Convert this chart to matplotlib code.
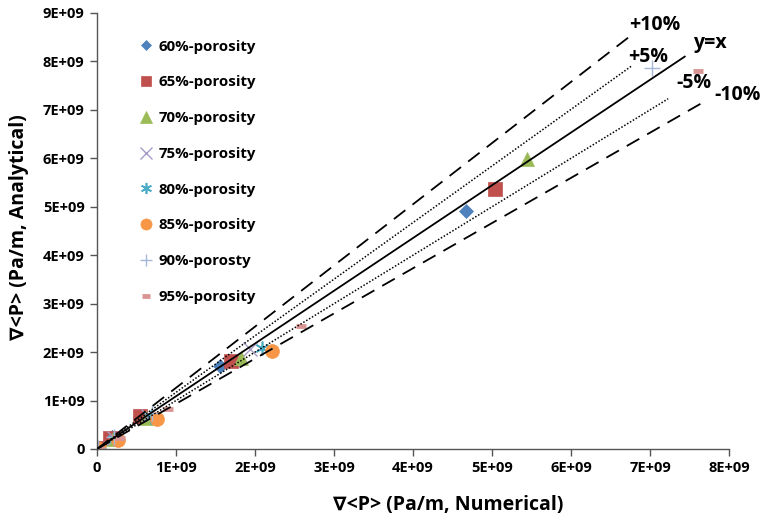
import math
import matplotlib
matplotlib.use("Agg")
import matplotlib.pyplot as plt
from matplotlib.ticker import FuncFormatter, MultipleLocator

plt.rcParams['font.family'] = ['Open Sans', 'DejaVu Sans']
plt.rcParams['font.weight'] = 'bold'

# ---- data (units of Pa/m) ----
labels = ["60%-porosity", "65%-porosity", "70%-porosity", "75%-porosity",
          "80%-porosity", "85%-porosity", "90%-porosty", "95%-porosity"]
num_60 = [0.01e9, 0.19e9, 0.54e9, 1.56e9, 4.67e9]
ana_60 = [0.02e9, 0.25e9, 0.66e9, 1.72e9, 4.92e9]
num_65 = [0.01e9, 0.16e9, 0.54e9, 1.70e9, 5.04e9]
ana_65 = [0.02e9, 0.23e9, 0.68e9, 1.82e9, 5.37e9]
num_70 = [0.01e9, 0.20e9, 0.62e9, 1.82e9, 5.44e9]
ana_70 = [0.02e9, 0.21e9, 0.64e9, 1.88e9, 5.99e9]
num_75 = [0.01e9, 0.21e9, 0.64e9, 1.94e9]
ana_75 = [0.02e9, 0.22e9, 0.68e9, 2.07e9]
num_80 = [0.01e9, 0.22e9, 0.68e9, 2.09e9]
ana_80 = [0.01e9, 0.21e9, 0.66e9, 2.09e9]
num_85 = [0.02e9, 0.27e9, 0.76e9, 2.22e9]
ana_85 = [0.01e9, 0.19e9, 0.62e9, 2.02e9]
num_90 = [0.01e9, 0.22e9, 0.70e9, 7.03e9]
ana_90 = [0.02e9, 0.24e9, 0.74e9, 7.87e9]
num_95 = [0.02e9, 0.29e9, 0.90e9, 2.58e9, 7.61e9]
ana_95 = [0.02e9, 0.23e9, 0.83e9, 2.54e9, 7.81e9]

series_x = [num_60, num_65, num_70, num_75, num_80, num_85, num_90, num_95]
series_y = [ana_60, ana_65, ana_70, ana_75, ana_80, ana_85, ana_90, ana_95]

# reference lines (drawn from origin to end point)
ref_names = ["+10%", "+5%", "y=x", "-5%", "-10%"]
ref_x_end = [6.77e9, 6.77e9, 7.44e9, 7.23e9, 7.73e9]
ref_y_end = [8.55e9, 7.91e9, 8.10e9, 7.23e9, 7.21e9]
ref_label_x = [7.06e9, 6.97e9, 7.76e9, 7.56e9, 8.11e9]
ref_label_y = [8.76e9, 8.10e9, 8.39e9, 7.56e9, 7.31e9]

# ---- styles ----
colors = ["#4F81BD", "#C0504D", "#9BBB59", "#A99BC8", "#4BACC6",
          "#F79646", "#A5B8DA", "#DA9694"]
markers = ["D", "s", "^", "x", (6, 2, 0), "o", "+", "_"]
msizes = [7, 9.5, 10, 10, 10, 10, 11, 7]
mews = [0.5, 0.5, 0.5, 1.0, 1.2, 0.5, 1.0, 3.5]
ref_styles = [(0, (8, 5)), (0, (1, 1.2)), "-", (0, (1, 1.2)), (0, (8, 5))]
ref_widths = [1.3, 1.1, 1.3, 1.1, 1.3]

fig = plt.figure(figsize=(7.66, 5.22), dpi=100)
ax = fig.add_axes([97 / 766, 1 - 449 / 522, (729 - 97) / 766, (449 - 13) / 522])

for i in range(len(ref_names)):
    ax.plot([0, ref_x_end[i]], [0, ref_y_end[i]], color="black",
            linestyle=ref_styles[i], linewidth=ref_widths[i], zorder=3)
    ax.text(ref_label_x[i], ref_label_y[i], ref_names[i], fontsize=14,
            fontweight="bold", ha="center", va="center", clip_on=False)

handles = []
for i in range(len(labels)):
    h, = ax.plot(series_x[i], series_y[i], linestyle="none",
                 marker=markers[i], markersize=msizes[i],
                 color=colors[i], markeredgecolor=colors[i],
                 markeredgewidth=mews[i], label=labels[i], zorder=2)
    handles.append(h)

ax.set_xlim(0, 8e9)
ax.set_ylim(0, 9e9)
ax.xaxis.set_major_locator(MultipleLocator(1e9))
ax.yaxis.set_major_locator(MultipleLocator(1e9))


def fmt(v, pos):
    if abs(v) < 1:
        return "0"
    e = int(math.floor(math.log10(abs(v)) + 1e-9))
    m = v / 10 ** e
    return f"{m:.0f}E+{e:02d}"


ax.xaxis.set_major_formatter(FuncFormatter(fmt))
ax.yaxis.set_major_formatter(FuncFormatter(fmt))
for s in ["top", "right"]:
    ax.spines[s].set_visible(False)
for s in ["left", "bottom"]:
    ax.spines[s].set_color("#555555")
    ax.spines[s].set_linewidth(1.0)
ax.tick_params(axis="both", direction="out", length=5, width=1,
               color="#555555", labelsize=10.5, pad=4)
for lab in ax.get_xticklabels() + ax.get_yticklabels():
    lab.set_fontweight("bold")

ax.set_xlabel("∇<P> (Pa/m, Numerical)", fontsize=14, fontweight="bold")
ax.set_ylabel("∇<P> (Pa/m, Analytical)", fontsize=14, fontweight="bold")
ax.xaxis.set_label_coords(0.555, -0.105)
ax.yaxis.set_label_coords(-0.108, 0.51)

leg = ax.legend(handles=handles, loc="upper left", bbox_to_anchor=(0.045, 0.97),
                frameon=False, fontsize=10.8, labelspacing=1.45, handlelength=0.9,
                handletextpad=0.4, numpoints=1, markerscale=0.8)
for t in leg.get_texts():
    t.set_fontweight("bold")

fig.savefig("out.png", dpi=100)
